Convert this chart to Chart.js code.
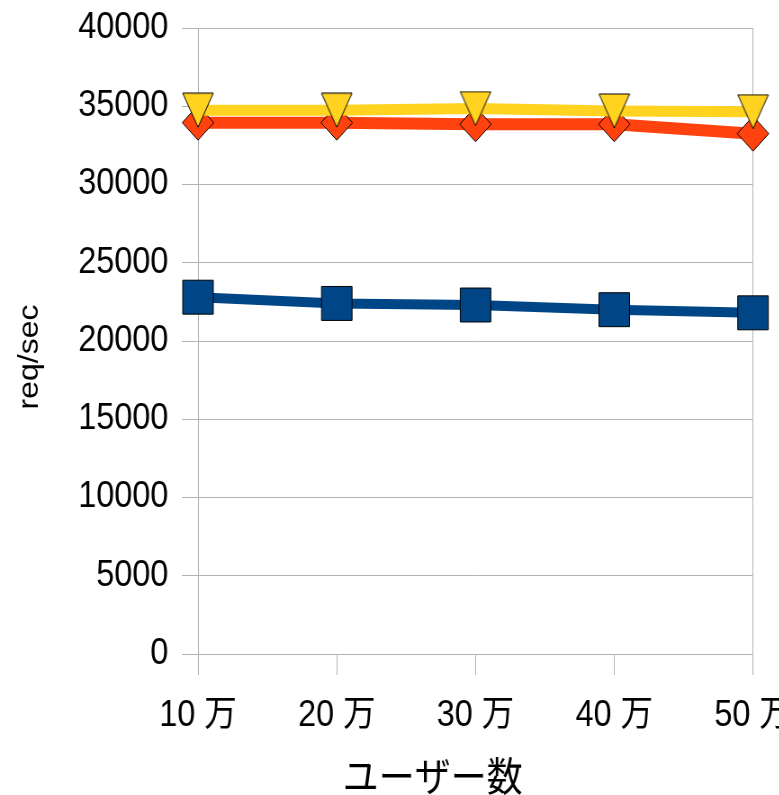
<!DOCTYPE html>
<html>
<head>
<meta charset="utf-8">
<script src="https://cdn.jsdelivr.net/npm/chart.js@4/dist/chart.umd.min.js"></script>
<style>
  html, body { margin: 0; padding: 0; background: #fff; overflow: hidden; }
  #wrap { width: 866px; height: 795px; transform: scaleX(0.9); transform-origin: 0 0; }
  canvas { display: block; }
</style>
</head>
<body>
<div id="wrap"><canvas id="chart" width="866" height="795"></canvas></div>
<script>
// Throughput (req/sec) against number of users
const categories = ['10 万', '20 万', '30 万', '40 万', '50 万'];
const seriesBlue = [22800, 22400, 22300, 22000, 21800];
const seriesRed = [33950, 33950, 33850, 33850, 33250];
const seriesYellow = [34750, 34750, 34850, 34700, 34650];
const yTicks = [0, 5000, 10000, 15000, 20000, 25000, 30000, 35000, 40000];
const xTitle = 'ユーザー数';
const yTitle = 'req/sec';

const FONT = '"Liberation Sans", "Noto Sans CJK JP", sans-serif';
const GRID = '#b3b3b3';

// Downward-pointing triangle marker with a thin black outline
function makeTriangle(w, h, fill) {
  const c = document.createElement('canvas');
  c.width = w + 2; c.height = h + 2;
  const g = c.getContext('2d');
  g.beginPath();
  g.moveTo(1, 1);
  g.lineTo(w + 1, 1);
  g.lineTo(w / 2 + 1, h + 1);
  g.closePath();
  g.fillStyle = fill;
  g.fill();
  g.lineWidth = 1;
  g.strokeStyle = '#000';
  g.stroke();
  return c;
}
const triangle = makeTriangle(34, 34, '#ffd320');

// Axis titles drawn relative to the plot area
const axisTitles = {
  id: 'axisTitles',
  afterDraw(chart) {
    const { ctx, chartArea: a } = chart;
    ctx.save();
    ctx.fillStyle = '#000';
    ctx.textAlign = 'center';
    ctx.textBaseline = 'middle';
    ctx.font = '40px "Noto Sans CJK JP", sans-serif';
    ctx.fillText(xTitle, a.left + (a.right - a.left) * 0.423, 776);
    ctx.translate(33, (a.top + a.bottom) / 2 + 16);
    ctx.rotate(-Math.PI / 2);
    ctx.font = '32px "Liberation Sans", sans-serif';
    ctx.fillText(yTitle, 0, 0);
    ctx.restore();
  }
};

new Chart(document.getElementById('chart'), {
  type: 'line',
  data: {
    labels: categories,
    datasets: [
      {
        data: seriesBlue,
        borderColor: '#004586',
        backgroundColor: '#004586',
        borderWidth: 10,
        pointStyle: 'rect',
        pointRadius: 24,
        pointBorderColor: '#000',
        pointBorderWidth: 1,
        pointBackgroundColor: '#004586',
        order: 2
      },
      {
        data: seriesRed,
        borderColor: '#ff420e',
        backgroundColor: '#ff420e',
        borderWidth: 12,
        pointStyle: 'rectRot',
        pointRadius: 17.5,
        pointBorderColor: '#000',
        pointBorderWidth: 1,
        pointBackgroundColor: '#ff420e',
        order: 1
      },
      {
        data: seriesYellow,
        borderColor: '#ffd320',
        backgroundColor: '#ffd320',
        borderWidth: 11,
        pointStyle: triangle,
        pointRadius: 17,
        order: 0
      }
    ]
  },
  options: {
    responsive: false,
    animation: false,
    events: [],
    layout: { padding: { top: 24, right: 29.3, bottom: 0, left: 0 } },
    plugins: { legend: { display: false }, tooltip: { enabled: false } },
    elements: { line: { tension: 0 } },
    scales: {
      x: {
        offset: false,
        grid: {
          color: (c) => (c.index === 0 || c.index === categories.length - 1) ? GRID : 'rgba(0,0,0,0)',
          tickColor: GRID,
          tickLength: 21,
          lineWidth: 1
        },
        border: { display: true, color: GRID },
        ticks: {
          font: { family: FONT, size: 36 },
          color: '#000',
          padding: 19,
          maxRotation: 0,
          autoSkip: false
        },
        afterFit(s) {
          s.height = 141;
          s.paddingLeft = 0; s.paddingRight = 0;
        }
      },
      y: {
        min: yTicks[0],
        max: yTicks[yTicks.length - 1],
        afterBuildTicks(s) { s.ticks = yTicks.map(v => ({ value: v })); },
        grid: { color: GRID, tickColor: GRID, tickLength: 18, lineWidth: 1 },
        border: { display: true, color: GRID },
        ticks: {
          font: { family: FONT, size: 36 },
          color: '#000',
          padding: 15,
          callback: (v) => String(v)
        },
        afterFit(s) {
          s.width = 220;
          s.paddingTop = 0; s.paddingBottom = 0;
        }
      }
    }
  },
  plugins: [axisTitles]
});
</script>
</body>
</html>
